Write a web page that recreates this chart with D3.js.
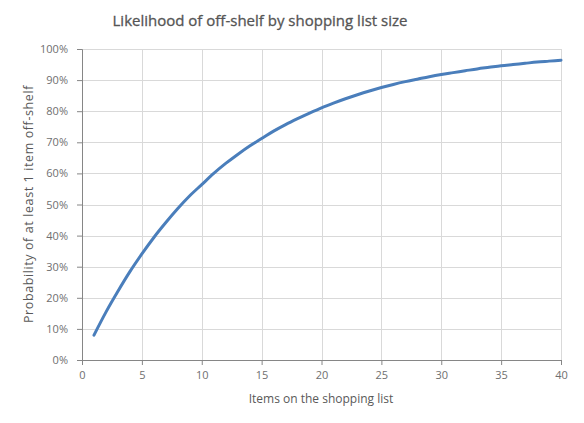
<!DOCTYPE html>
<html>
<head>
<meta charset="utf-8">
<script src="https://cdn.jsdelivr.net/npm/d3@7"></script>
<style>
  body { margin: 0; background: #fff; }
  svg text { font-family: "Open Sans", "Liberation Sans", sans-serif; }
</style>
</head>
<body>
<svg id="chart" width="584" height="423"></svg>
<script>
// items on the list and the probability (%)
var items = [1,2,3,4,5,6,7,8,9,10,11,12,13,14,15,16,17,18,19,20,
             21,22,23,24,25,26,27,28,29,30,31,32,33,34,35,36,37,38,39,40];
var probability = [8,15.4,22.1,28.4,34.1,39.4,44.2,48.7,52.8,56.4,
                   60,63.2,66.1,68.8,71.2,73.6,75.7,77.6,79.4,81.1,
                   82.6,84,85.3,86.5,87.6,88.6,89.5,90.3,91.1,91.8,
                   92.4,93,93.6,94.1,94.6,95,95.4,95.8,96.1,96.4];
var xTicks = [0,5,10,15,20,25,30,35,40];
var yTicks = [0,10,20,30,40,50,60,70,80,90,100];

var svg = d3.select("#chart");
var margin = {left: 82, right: 23, top: 49, bottom: 63};
var width = 584 - margin.left - margin.right,
    height = 423 - margin.top - margin.bottom;

var x = d3.scaleLinear().domain([0, 40]).range([0, width]);
var y = d3.scaleLinear().domain([0, 100]).range([height, 0]);

var g = svg.append("g").attr("transform", "translate(" + margin.left + "," + margin.top + ")");

// gridlines
g.selectAll(".hgrid").data(yTicks.slice(1)).enter().append("line")
    .attr("x1", 0).attr("x2", width)
    .attr("y1", function(d) { return Math.round(y(d)) + 0.5; })
    .attr("y2", function(d) { return Math.round(y(d)) + 0.5; })
    .attr("stroke", "#d9d9d9");
g.selectAll(".vgrid").data(xTicks.slice(1)).enter().append("line")
    .attr("y1", 0).attr("y2", height)
    .attr("x1", function(d) { return Math.round(x(d)) + 0.5; })
    .attr("x2", function(d) { return Math.round(x(d)) + 0.5; })
    .attr("stroke", "#d9d9d9");

// axes
var xAxis = g.append("g")
    .attr("transform", "translate(0," + height + ")")
    .call(d3.axisBottom(x).tickValues(xTicks).tickSize(5).tickPadding(6));
var yAxis = g.append("g")
    .call(d3.axisLeft(y).tickValues(yTicks).tickSize(5).tickPadding(9)
        .tickFormat(function(d) { return d + "%"; }));

[xAxis, yAxis].forEach(function(a) {
    a.select(".domain").attr("stroke", "#868686");
    a.selectAll(".tick line").attr("stroke", "#868686");
    a.selectAll(".tick text")
        .attr("fill", "#6f6f6f")
        .style("font-size", "11px");
});

// the curve
var line = d3.line()
    .x(function(d, i) { return x(items[i]); })
    .y(function(d) { return y(d); })
    .curve(d3.curveMonotoneX);

g.append("path")
    .datum(probability)
    .attr("d", line)
    .attr("fill", "none")
    .attr("stroke", "#4a7ebb")
    .attr("stroke-width", 3)
    .attr("stroke-linecap", "round");

// titles
svg.append("text")
    .attr("x", 260).attr("y", 26)
    .attr("text-anchor", "middle")
    .attr("fill", "#555")
    .style("font-size", "15px")
    .style("stroke", "#555")
    .style("stroke-width", "0.3px")
    .text("Likelihood of off-shelf by shopping list size");

svg.append("text")
    .attr("x", 321).attr("y", 403)
    .attr("text-anchor", "middle")
    .attr("fill", "#595959")
    .style("font-size", "12px")
    .text("Items on the shopping list");

svg.append("text")
    .attr("transform", "translate(33,204) rotate(-90)")
    .attr("text-anchor", "middle")
    .attr("fill", "#595959")
    .style("font-size", "12.5px")
    .style("letter-spacing", "0.6px")
    .text("Probability of at least 1 item off-shelf");
</script>
</body>
</html>
